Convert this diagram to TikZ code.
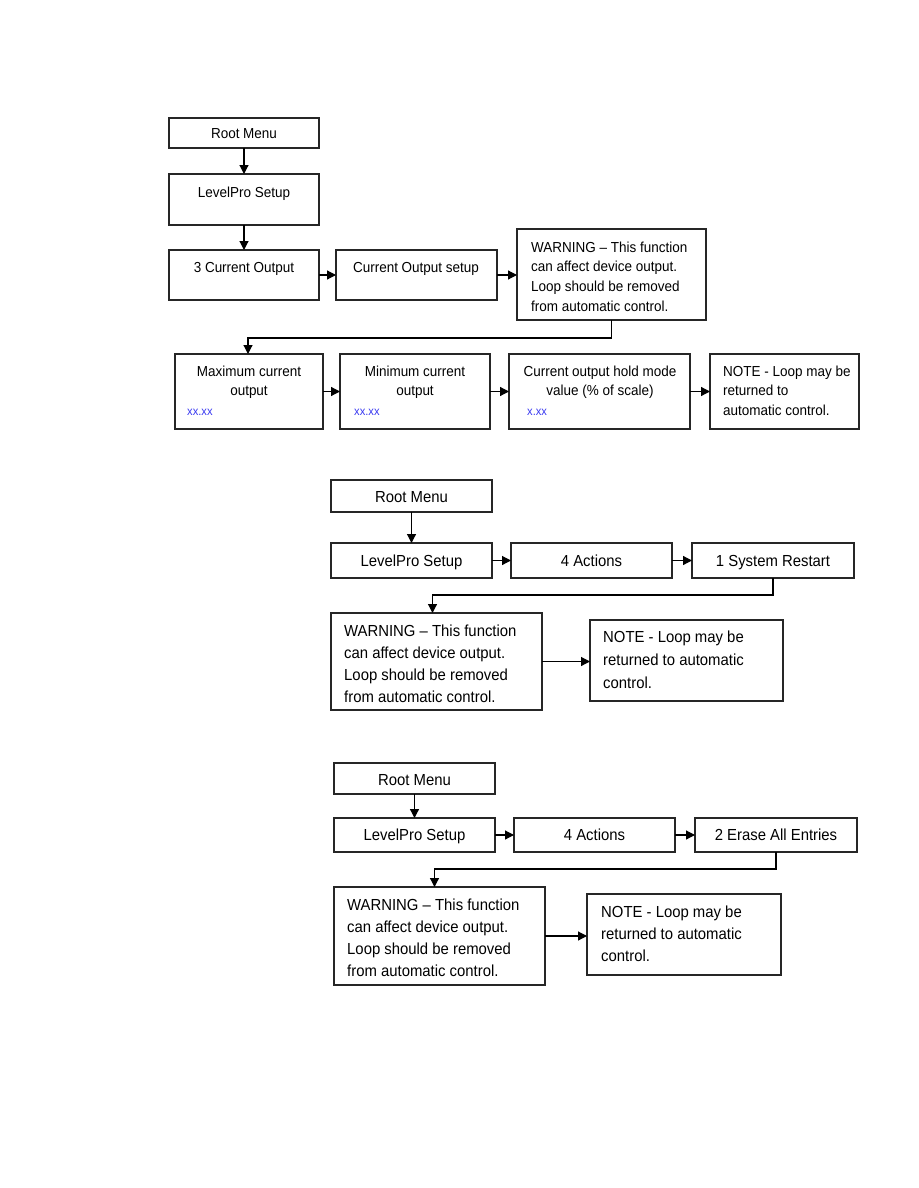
\documentclass[tikz,border=0pt]{standalone}
\usepackage{fontspec}
\setmainfont{Liberation Sans}[FakeStretch=0.93]
\usetikzlibrary{arrows.meta}
\newcommand\fa{\fontsize{14.5}{19.7}\selectfont}
\newcommand\fb{\fontsize{16}{22}\selectfont}
\newcommand\fc{\fontsize{12}{14}\selectfont}
\definecolor{valblue}{HTML}{3A3AF0}
\newcommand\mkbox[5]{\node[boxst, minimum width={(#4)-(#2)}, minimum height={(#5)-(#3)}] (#1) at ({((#2)+(#4))/2},{((#3)+(#5))/2}) {};}
\begin{document}
\begin{tikzpicture}[x=1pt,y=-1pt,
  boxst/.style={draw=black!85, line width=1.1pt, inner sep=0pt, outer sep=0pt},
  arr/.style={draw=black, line width=1.2pt, -{Triangle[length=9pt,width=9pt]}},
  ta/.style={font=\fa, inner sep=0pt, anchor=mid, yshift=-3pt},
  tam/.style={font=\fa, inner sep=0pt, align=center, anchor=north},
  tal/.style={font=\fa, inner sep=0pt, align=left, anchor=north west},
  tb/.style={font=\fb, inner sep=0pt, anchor=mid, yshift=-3pt},
  tbl/.style={font=\fb, inner sep=0pt, align=left, anchor=north west},
  val/.style={font=\fc, text=valblue, inner sep=0pt, anchor=mid west, yshift=-2pt}
]
\useasboundingbox (0,0) rectangle (918,1188);

% ---------- Section 1 ----------
\mkbox{rm1}{169}{118}{319}{148}
\mkbox{lp1}{169}{174}{319}{225}
\mkbox{co1}{169}{250}{319}{300}
\mkbox{cos1}{336}{250}{497}{300}
\mkbox{warn1}{517}{229}{706}{320}
\mkbox{max1}{175}{354}{323}{429}
\mkbox{min1}{340}{354}{490}{429}
\mkbox{hold1}{509}{354}{690}{429}
\mkbox{note1}{710}{354}{859}{429}

\node[ta] (t-rm1) at (244,133) {Root Menu};
\node[ta] (t-lp1) at (244,192) {LevelPro Setup};
\node[ta] (t-co1) at (244,267) {3 Current Output};
\node[ta] (t-cos1) at (416,267) {Current Output setup};
\node[tal] (t-warn1) at (531,241.5) {WARNING -- This function\\can affect device output.\\Loop should be removed\\from automatic control.};
\node[tam] (t-max1) at (249,365.5) {Maximum current\\output};
\node[tam] (t-min1) at (415,365.5) {Minimum current\\output};
\node[tam] (t-hold1) at (600,365.5) {Current output hold mode\\value (\% of scale)};
\node[tal] (t-note1) at (723,365.5) {NOTE - Loop may be\\returned to\\automatic control.};
\node[val] (v-max1) at (187,411) {xx.xx};
\node[val] (v-min1) at (354,411) {xx.xx};
\node[val] (v-hold1) at (527,411) {x.xx};

\draw[arr] (rm1) -- (lp1);
\draw[arr] (lp1) -- (co1);
\draw[arr] (co1) -- (cos1);
\draw[arr] (cos1.east) -- (cos1.east -| warn1.west);
\draw[arr] (warn1.south) -- ++(0,18) -| ([xshift=-1pt]max1.north);
\draw[arr] (max1) -- (min1);
\draw[arr] (min1) -- (hold1);
\draw[arr] (hold1) -- (note1);

% ---------- Section 2 ----------
\mkbox{rm2}{331}{480}{492}{512}
\mkbox{lp2}{331}{543}{492}{578}
\mkbox{act2}{511}{543}{672}{578}
\mkbox{sr2}{692}{543}{854}{578}
\mkbox{warn2}{331}{613}{542}{710}
\mkbox{note2}{590}{620}{783}{701}

\node[tb] (t-rm2) at (411.5,497) {Root Menu};
\node[tb] (t-lp2) at (411.5,561) {LevelPro Setup};
\node[tb] (t-act2) at (591.5,561) {4 Actions};
\node[tb] (t-sr2) at (773,561) {1 System Restart};
\node[tbl] (t-warn2) at (344,625) {WARNING -- This function\\can affect device output.\\Loop should be removed\\from automatic control.};
\node[tbl, font=\fontsize{16}{23}\selectfont] (t-note2) at (603,631) {NOTE - Loop may be\\returned to automatic\\control.};

\draw[arr] (rm2) -- (lp2);
\draw[arr] (lp2) -- (act2);
\draw[arr] (act2) -- (sr2);
\draw[arr] (sr2.south) -- ++(0,17) -| ([xshift=-4pt]warn2.north);
\draw[arr] (warn2.east) -- (warn2.east -| note2.west);

% ---------- Section 3 ----------
\mkbox{rm3}{334}{763}{495}{794}
\mkbox{lp3}{334}{818}{495}{852}
\mkbox{act3}{514}{818}{675}{852}
\mkbox{ea3}{695}{818}{857}{852}
\mkbox{warn3}{334}{887}{545}{985}
\mkbox{note3}{587}{894}{781}{975}

\node[tb] (t-rm3) at (414.5,780) {Root Menu};
\node[tb] (t-lp3) at (414.5,835) {LevelPro Setup};
\node[tb] (t-act3) at (594.5,835) {4 Actions};
\node[tb] (t-ea3) at (776,835) {2 Erase All Entries};
\node[tbl] (t-warn3) at (347,899) {WARNING -- This function\\can affect device output.\\Loop should be removed\\from automatic control.};
\node[tbl] (t-note3) at (601,906) {NOTE - Loop may be\\returned to automatic\\control.};

\draw[arr] (rm3) -- (lp3);
\draw[arr] (lp3) -- (act3);
\draw[arr] (act3) -- (ea3);
\draw[arr] (ea3.south) -- ++(0,17) -| ([xshift=-5pt]warn3.north);
\draw[arr] (warn3.east) -- (warn3.east -| note3.west);
\end{tikzpicture}
\end{document}
